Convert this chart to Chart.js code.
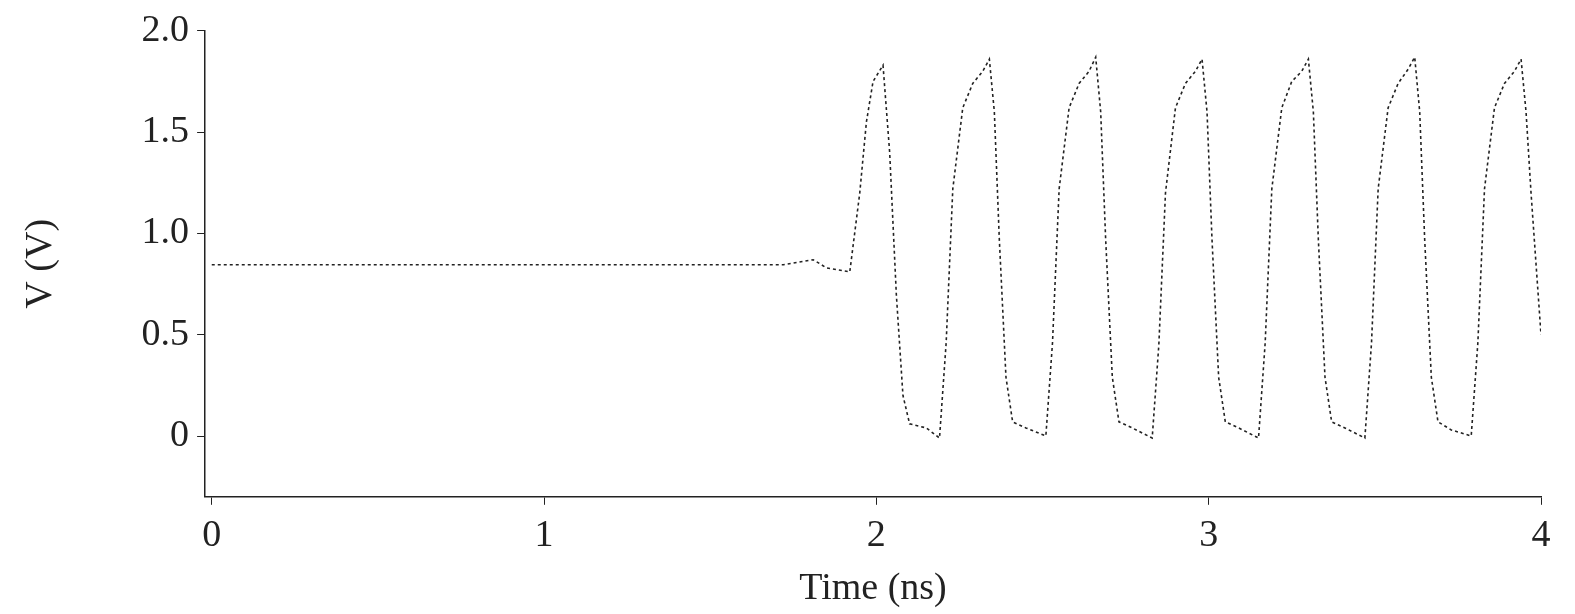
<!DOCTYPE html>
<html>
<head>
<meta charset="utf-8">
<script src="https://cdn.jsdelivr.net/npm/chart.js@4/dist/chart.umd.min.js"></script>
<style>
  html, body { margin: 0; padding: 0; background: #fff; }
  #wrap { width: 1575px; height: 614px; }
</style>
</head>
<body>
<div id="wrap"><canvas id="chart"></canvas></div>
<script>
// time in ns, voltage in V
const time_ns = [
    0, 0.5, 1, 1.5, 1.72, 1.81, 1.85, 1.92, 1.95, 1.97, 1.99, 2.02, 2.04, 2.06, 2.08, 2.10, 2.15, 2.19,
    2.21, 2.23, 2.26, 2.29, 2.32, 2.34, 2.355, 2.37, 2.39, 2.41, 2.45, 2.51,
    2.53, 2.55, 2.58, 2.61, 2.64, 2.66, 2.675, 2.69, 2.71, 2.73, 2.77, 2.83,
    2.85, 2.87, 2.90, 2.93, 2.96, 2.98, 2.995, 3.01, 3.03, 3.05, 3.09, 3.15,
    3.17, 3.19, 3.22, 3.25, 3.28, 3.30, 3.315, 3.33, 3.35, 3.37, 3.41, 3.47,
    3.49, 3.51, 3.54, 3.57, 3.60, 3.62, 3.635, 3.65, 3.67, 3.69, 3.73, 3.79,
    3.81, 3.83, 3.86, 3.89, 3.92, 3.94, 3.955, 3.97, 4.0
];
const volts = [
    0.845, 0.845, 0.845, 0.845, 0.845, 0.87, 0.83, 0.81, 1.2, 1.55, 1.75, 1.83, 1.4, 0.7, 0.2, 0.06, 0.04, -0.01,
    0.46, 1.22, 1.62, 1.74, 1.80, 1.86, 1.6, 0.97, 0.29, 0.07, 0.04, 0.0,
    0.46, 1.22, 1.62, 1.74, 1.80, 1.87, 1.6, 0.97, 0.29, 0.07, 0.04, -0.01,
    0.45, 1.2, 1.62, 1.74, 1.80, 1.86, 1.6, 0.97, 0.29, 0.07, 0.04, -0.01,
    0.46, 1.22, 1.62, 1.75, 1.80, 1.86, 1.6, 0.97, 0.29, 0.07, 0.04, -0.01,
    0.46, 1.22, 1.62, 1.74, 1.81, 1.87, 1.6, 0.97, 0.29, 0.07, 0.03, 0.0,
    0.46, 1.22, 1.62, 1.74, 1.80, 1.86, 1.6, 1.2, 0.5
];
const x_ticks = [0, 1, 2, 3, 4];
const y_ticks = [0, 0.5, 1.0, 1.5, 2.0];
const y_labels = ["0", "0.5", "1.0", "1.5", "2.0"];

const points = time_ns.map((t, i) => ({ x: t, y: volts[i] }));
const font = { family: "Liberation Serif", size: 38 };

new Chart(document.getElementById("chart"), {
    type: "scatter",
    data: {
        datasets: [{
            data: points,
            showLine: true,
            borderColor: "#222",
            borderWidth: 1.6,
            borderDash: [3, 3],
            pointRadius: 0,
            tension: 0
        }]
    },
    options: {
        responsive: true,
        maintainAspectRatio: false,
        animation: false,
        layout: { padding: { top: 28, right: 34, left: 18, bottom: 2 } },
        plugins: { legend: { display: false }, tooltip: { enabled: false } },
        scales: {
            x: {
                type: "linear", min: -0.02, max: 4.0,
                afterBuildTicks: (ax) => { ax.ticks = x_ticks.map(v => ({ value: v })); },
                ticks: { color: "#222", font: font, padding: 8, callback: (v) => String(v) },
                grid: { drawOnChartArea: false, color: "#222", tickLength: 8 },
                border: { color: "#222", width: 1.5 },
                title: { display: true, text: "Time (ns)", color: "#222", font: font, padding: { top: 0, bottom: 0 } }
            },
            y: {
                min: -0.3, max: 2.0,
                afterBuildTicks: (ax) => { ax.ticks = y_ticks.map(v => ({ value: v })); },
                ticks: { color: "#222", font: font, padding: 8,
                    callback: (v) => y_labels[y_ticks.indexOf(v)] },
                grid: { drawOnChartArea: false, color: "#222", tickLength: 8 },
                border: { color: "#222", width: 1.5 },
                title: { display: true, text: "V (V)", color: "#222", font: font, padding: { top: 0, bottom: 70 } }
            }
        }
    }
});
</script>
</body>
</html>
